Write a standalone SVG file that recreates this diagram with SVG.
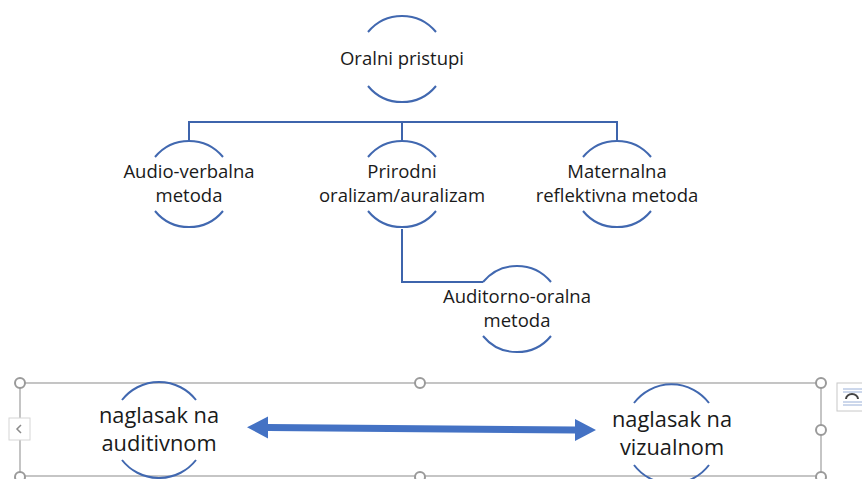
<svg xmlns="http://www.w3.org/2000/svg" width="862" height="479" viewBox="0 0 862 479">
<defs>
<style>
.arc{fill:none;stroke:#4168B0;stroke-width:2}
.conn{fill:none;stroke:#3E64AC;stroke-width:2}
.t{font-family:"Open Sans","Liberation Sans",sans-serif;font-size:18.5px;fill:#1a1a1a;text-anchor:middle}
.tb{font-family:"Open Sans","Liberation Sans",sans-serif;font-size:21.8px;fill:#1a1a1a;text-anchor:middle}
.sel{fill:none;stroke:#A6A6A6;stroke-width:1.3}
.h{fill:#fff;stroke:#9a9a9a;stroke-width:2}
</style>
</defs>
<rect width="862" height="479" fill="#fff"/>
<g id="connectors">
<path class="conn" d="M189 140V122H617V140M402 122V140M402 229V282H483"/>
</g>
<g id="n-oralni">
<path class="arc" d="M368 32A44 44 0 0 1 436 32M368 86A44 44 0 0 0 436 86"/>
<text class="t" x="402" y="65">Oralni pristupi</text>
</g>
<g id="n-audio">
<path class="arc" d="M155 157A44 44 0 0 1 223 157M155 211A44 44 0 0 0 223 211"/>
<text class="t" x="189" y="178">Audio-verbalna</text>
<text class="t" x="189" y="202">metoda</text>
</g>
<g id="n-prirodni">
<path class="arc" d="M368 157A44 44 0 0 1 436 157M368 211A44 44 0 0 0 436 211"/>
<text class="t" x="402" y="178">Prirodni</text>
<text class="t" x="402" y="202">oralizam/auralizam</text>
</g>
<g id="n-maternalna">
<path class="arc" d="M583 157A44 44 0 0 1 651 157M583 211A44 44 0 0 0 651 211"/>
<text class="t" x="617" y="178">Maternalna</text>
<text class="t" x="617" y="202">reflektivna metoda</text>
</g>
<g id="n-auditorno">
<path class="arc" d="M483 282A44 44 0 0 1 551 282M483 336A44 44 0 0 0 551 336"/>
<text class="t" x="517" y="303">Auditorno-oralna</text>
<text class="t" x="517" y="327">metoda</text>
</g>
<g id="selection">
<rect class="sel" x="20" y="383" width="801" height="93"/>
<circle class="h" cx="20" cy="383" r="5"/>
<circle class="h" cx="420" cy="383" r="5"/>
<circle class="h" cx="821" cy="383" r="5"/>
<circle class="h" cx="821" cy="430" r="5"/>
<circle class="h" cx="20" cy="477" r="5"/>
<circle class="h" cx="420" cy="477" r="5"/>
<circle class="h" cx="821" cy="477" r="5"/>
<rect x="9" y="418" width="21" height="22" fill="#fff" stroke="#d6d6d6" stroke-width="1"/>
<path d="M21 425L17 429L21 433" fill="none" stroke="#8a8a8a" stroke-width="1.5"/>
<rect x="837" y="383" width="30" height="28" fill="#fff" stroke="#c8c8c8" stroke-width="1"/>
<path d="M843 389H862M843 392H862M843 402H862M843 405H862" stroke="#9ab0d8" stroke-width="1"/>
<path d="M846 399A6 5 0 0 1 858 399" fill="none" stroke="#444" stroke-width="2"/>
</g>
<g id="n-auditivnom">
<path class="arc" d="M122 400A47 47 0 0 1 196 400M122 460A47 47 0 0 0 196 460"/>
<text class="tb" x="159" y="423">naglasak na</text>
<text class="tb" x="159" y="451">auditivnom</text>
</g>
<g id="n-vizualnom">
<path class="arc" d="M634 403A47 47 0 0 1 709 403M634 465A47 47 0 0 0 709 465"/>
<text class="tb" x="672" y="427">naglasak na</text>
<text class="tb" x="672" y="455">vizualnom</text>
</g>
<g id="arrow">
<path d="M247 427.3L268 416.5V424L575 426.5V419L596 430L575 441V433.5L268 431V438.5Z" fill="#4472C4"/>
</g>
</svg>
